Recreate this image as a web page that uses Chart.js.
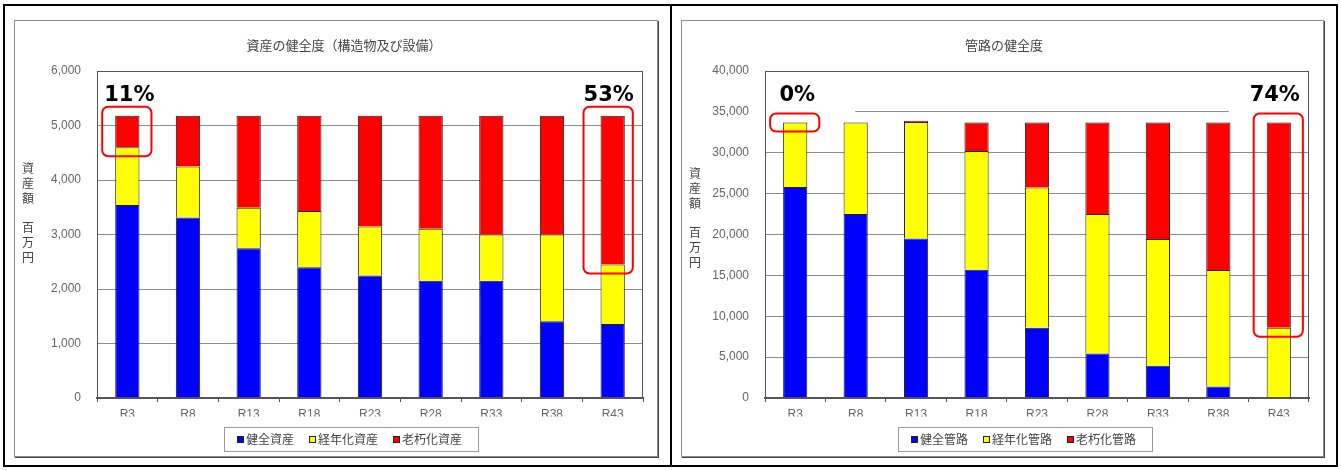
<!DOCTYPE html>
<html lang="ja">
<head>
<meta charset="utf-8">
<script src="https://cdn.jsdelivr.net/npm/chart.js@4.4.1/dist/chart.umd.min.js"></script>
<style>
  html, body { margin: 0; padding: 0; background: #fff; }
  body { width: 1341px; height: 470px; position: relative; overflow: hidden; }
  .frame { position: absolute; left: 3px; top: 4px; width: 1331px; height: 459px; border: 2px solid #000; }
  .divider { position: absolute; left: 670px; top: 4px; width: 2px; height: 463px; background: #000; }
  .panel { position: absolute; top: 20px; height: 435px; border: 1px solid #8c8c8c; box-shadow: 1px 1px 0 #444; background: #fff; }
  #boxL { left: 14px; width: 642px; }
  #boxR { left: 681px; width: 641px; }
  canvas { display: block; }
</style>
</head>
<body>
<div class="frame"></div>
<div class="divider"></div>
<div class="panel" id="boxL"><canvas id="grafShisan" width="642" height="435"></canvas></div>
<div class="panel" id="boxR"><canvas id="grafKanro" width="641" height="435"></canvas></div>
<script>
const anos = ['R3', 'R8', 'R13', 'R18', 'R23', 'R28', 'R33', 'R38', 'R43'];

// 構造物及び設備（百万円）
const kenzenShisan = [3540, 3310, 2750, 2400, 2250, 2150, 2150, 1410, 1360];
const keinenShisan = [1060, 940, 740, 1030, 895, 955, 850, 1590, 1090];
const rokyuShisan  = [580, 930, 1690, 1750, 2035, 2075, 2180, 2180, 2730];

// 管路（百万円）
const kenzenKanro = [25800, 22500, 19500, 15700, 8600, 5450, 3950, 1400, 0];
const keinenKanro = [7900, 11200, 14250, 14500, 17150, 17050, 15500, 14250, 8600];
const rokyuKanro  = [0, 0, 150, 3500, 7950, 11200, 14250, 18050, 25100];

const FONT_NUM = '"Liberation Sans", Arial, sans-serif';
const FONT_JP = '"Noto Sans CJK JP", sans-serif';

// title, vertical axis caption, boxed legend and the red call-outs
const decor = {
  id: 'decor',
  afterDraw(chart, args, opts) {
    const { ctx, chartArea: a, scales: { x, y } } = chart;
    const ds = chart.data.datasets;
    ctx.save();

    ctx.strokeStyle = '#555';
    ctx.lineWidth = 1;
    ctx.strokeRect(a.left + 0.5, a.top + 0.5, a.width - 1, a.height - 1);

    ctx.fillStyle = '#444';
    ctx.textAlign = 'center';
    ctx.textBaseline = 'middle';
    ctx.font = '13px ' + FONT_JP;
    ctx.fillText(opts.title, opts.titleX, 24);

    ctx.font = '12px ' + FONT_JP;
    opts.yTitle.forEach((grupo, g) => {
      [...grupo].forEach((ch, k) => ctx.fillText(ch, 13, opts.yTitleTop + g * 59 + k * 15));
    });

    // legend
    ctx.font = '12px ' + FONT_JP;
    const larg = ds.map(d => ctx.measureText(d.label).width);
    const total = 13 + larg.reduce((s, w) => s + 9 + w, 0) + 15 * (ds.length - 1) + 16;
    const l0 = Math.round(opts.legendX - total / 2);
    const yl = 406;
    ctx.strokeStyle = '#999';
    ctx.strokeRect(l0 + 0.5, yl + 0.5, Math.round(total), 24);
    ctx.textAlign = 'left';
    let cx = l0 + 13;
    ds.forEach((d, k) => {
      ctx.fillStyle = d.backgroundColor;
      ctx.fillRect(cx, yl + 9, 6, 6);
      ctx.strokeStyle = '#222';
      ctx.strokeRect(cx + 0.5, yl + 9.5, 6, 6);
      ctx.fillStyle = '#444';
      ctx.fillText(d.label, cx + 9, yl + 12.5);
      cx += 9 + larg[k] + 15;
    });
    ctx.textAlign = 'center';

    opts.marks.forEach((i, n) => {
      const soma = ds.reduce((s, d) => s + d.data[i], 0);
      const rojo = ds[2].data[i];
      const bar = chart.getDatasetMeta(0).data[i];
      const xc = x.getPixelForValue(i);
      const w = bar.width;
      const yTop = y.getPixelForValue(soma);
      const yBot = y.getPixelForValue(soma - rojo);

      // white patch behind the percentage
      const ml = n === 0 ? a.left + 1 : xc - 50;
      const mr = n === 0 ? xc + 60 : a.right - 1;
      ctx.fillStyle = '#fff';
      ctx.fillRect(ml, a.top + 10, mr - ml, 32);

      ctx.fillStyle = '#000';
      ctx.font = 'bold 21px "DejaVu Sans", sans-serif';
      ctx.fillText(Math.round(rojo / soma * 100) + '%', xc + (n === 0 ? 2 : -4), a.top + 25);

      ctx.strokeStyle = '#f00';
      ctx.lineWidth = 2;
      ctx.beginPath();
      ctx.roundRect(xc - w / 2 - 13 + opts.shift[n], yTop - 9, w + 25, yBot - yTop + 18, 6);
      ctx.stroke();
    });
    ctx.restore();
  }
};

function criarGrafico(id, series, nomes, maxY, passo, opts) {
  const cores = ['#0000ff', '#ffff00', '#ff0000'];
  return new Chart(document.getElementById(id), {
    type: 'bar',
    data: {
      labels: anos,
      datasets: series.map((s, k) => ({
        label: nomes[k],
        data: s,
        backgroundColor: cores[k],
        borderColor: '#222',
        borderWidth: 1,
        barPercentage: 0.4,
        categoryPercentage: 1
      }))
    },
    options: {
      responsive: false,
      animation: false,
      layout: { padding: { left: 0, right: 14, top: 50, bottom: 39.5 } },
      plugins: {
        title: { display: false },
        tooltip: { enabled: false },
        legend: { display: false },
        decor: opts
      },
      scales: {
        x: {
          stacked: true,
          grid: { offset: true, drawOnChartArea: false, drawTicks: true, tickLength: 4, color: '#555' },
          border: { color: '#555', width: 2 },
          ticks: { color: '#666', padding: 5, font: { family: FONT_NUM, size: 12 } },
          afterFit: s => { s.height = 18.5; }
        },
        y: {
          stacked: true,
          min: 0,
          max: maxY,
          grid: { color: '#8c8c8c', drawTicks: false },
          border: { display: false },
          ticks: {
            stepSize: passo,
            color: '#666',
            padding: 16,
            font: { family: FONT_NUM, size: 12 },
            callback: v => v.toLocaleString('en-US')
          },
          afterFit: s => { s.width = opts.plotLeft; }
        }
      }
    },
    plugins: [decor]
  });
}

criarGrafico('grafShisan', [kenzenShisan, keinenShisan, rokyuShisan],
  ['健全資産', '経年化資産', '老朽化資産'], 6000, 1000, {
    title: '資産の健全度（構造物及び設備）',
    titleX: 329,
    yTitle: ['資産額', '百万円'],
    yTitleTop: 147,
    plotLeft: 82,
    legendX: 336,
    marks: [0, 8],
    shift: [0, -4]
  });

criarGrafico('grafKanro', [kenzenKanro, keinenKanro, rokyuKanro],
  ['健全管路', '経年化管路', '老朽化管路'], 40000, 5000, {
    title: '管路の健全度',
    titleX: 322,
    yTitle: ['資産額', '百万円'],
    yTitleTop: 152,
    plotLeft: 83,
    legendX: 343,
    marks: [0, 8],
    shift: [0, 0]
  });
</script>
</body>
</html>
